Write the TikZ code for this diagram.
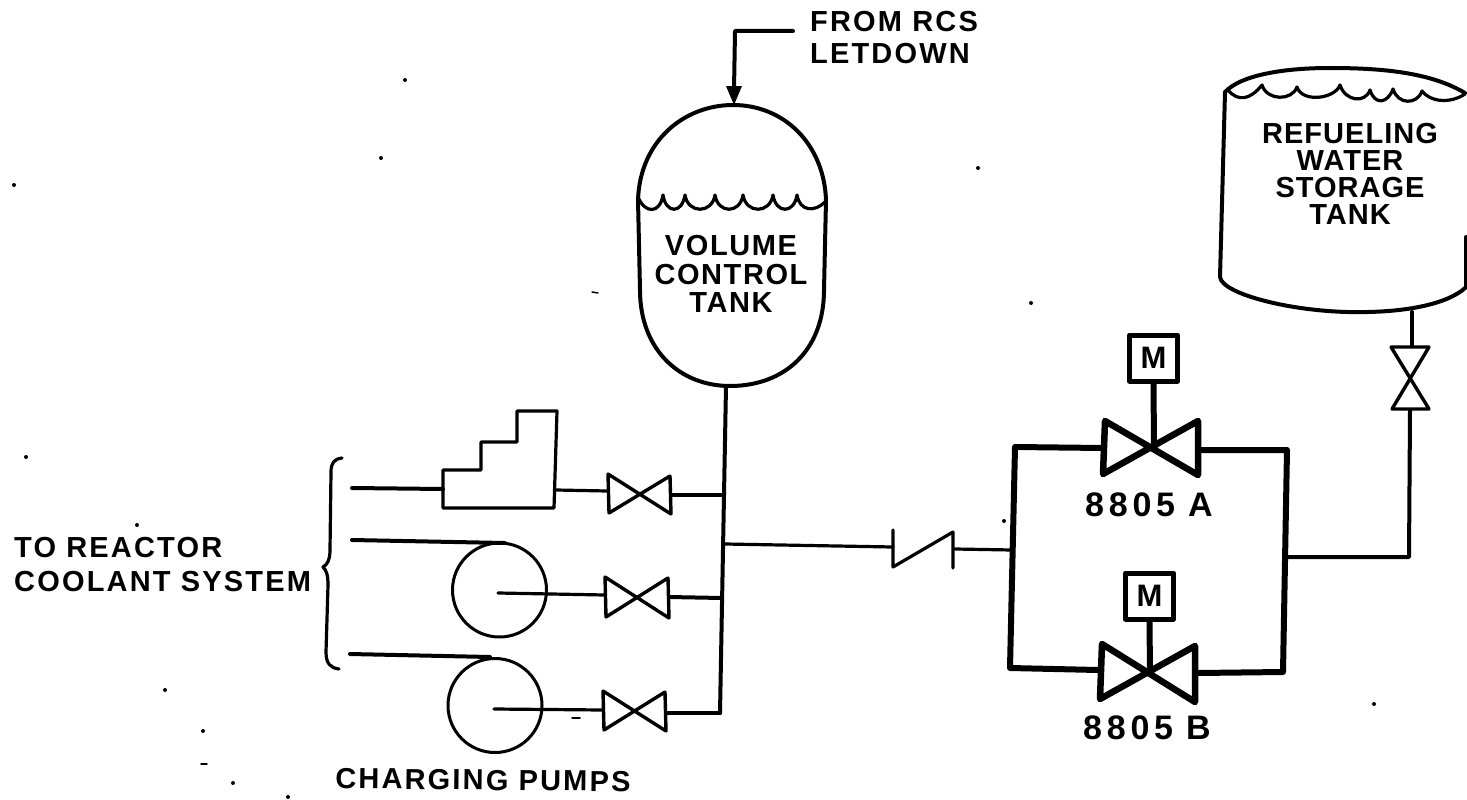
\documentclass[tikz,border=0pt]{standalone}
\usepackage{fontspec}
\setmainfont{Liberation Sans}
\newfontfamily\lsA[LetterSpace=3.5]{Liberation Sans}
\newfontfamily\lsB[LetterSpace=5.5]{Liberation Sans}
\newfontfamily\lsC[LetterSpace=7.5]{Liberation Sans}
\newfontfamily\lsD[LetterSpace=14]{Liberation Sans}
\begin{document}
\begin{tikzpicture}[x=1pt,y=-1pt,line cap=round,line join=round,
 pipe/.style={draw=black,line width=3.2pt},
 shell/.style={draw=black,line width=4pt},
 heavy/.style={draw=black,line width=6pt},
 lbl/.style={align=center,inner sep=0pt,text=black},
 vlv/.style={draw=black,line width=3.4pt,fill=white},
 mvlv/.style={draw=black,line width=6.5pt,fill=white},
 mbox/.style={draw=black,line width=5pt,minimum width=48pt,minimum height=46pt,inner sep=0pt,font=\fontsize{31pt}{31pt}\selectfont\bfseries,fill=white},
 speck/.style={fill=black}]
\useasboundingbox (0,0) rectangle (1467,800);
% labels
\node[lbl,align=left,anchor=west,font=\fontsize{29pt}{32pt}\lsC\bfseries] (rcs) at (810,38) {FROM RCS\\LETDOWN};
\node[lbl,font=\fontsize{29pt}{28.5pt}\lsB\bfseries] (vct) at (731,274) {VOLUME\\CONTROL\\TANK};
\node[lbl,font=\fontsize{29pt}{27pt}\lsA\bfseries] (rwst) at (1350,174) {REFUELING\\WATER\\STORAGE\\TANK};
\node[lbl,align=left,anchor=west,font=\fontsize{29pt}{34pt}\lsC\bfseries] (rc) at (14,565) {TO REACTOR\\COOLANT SYSTEM};
\node[lbl,rotate=-0.6,font=\fontsize{29pt}{32pt}\lsC\bfseries] (cp) at (483,780) {CHARGING PUMPS};
\node[lbl,anchor=west,font=\fontsize{34pt}{34pt}\lsD\bfseries] (a) at (1085,505) {8805\hspace{13pt}A};
\node[lbl,anchor=west,font=\fontsize{34pt}{34pt}\lsD\bfseries] (b) at (1083,728) {8805\hspace{13pt}B};
% VCT
\draw[shell] (638,200) .. controls (640,140) and (685,105) .. (733,105) .. controls (785,105) and (824,145) .. (826,200) -- (824,290) .. controls (824,350) and (785,386) .. (730,386) .. controls (680,386) and (640,350) .. (640,290) -- cycle;
\draw[pipe] (638,197) .. controls (645,214) and (660,214) .. (663,195)
  \foreach \ax/\bx in {663/685,685/715,715/743,743/773,773/797} { .. controls (\ax+3,214) and (\bx-3,214) .. (\bx,195) }
  .. controls (800,212) and (815,212) .. (825,202);
% inlet
\coordinate (rcsEnd) at (793,31);
\coordinate (vctTop) at (734,90);
\draw[shell] (rcsEnd) -- (735,31) -- (vctTop);
\fill (734,105) -- (726,86) -- (742,86) -- cycle;
% header
\coordinate (h0) at (726,386);
\coordinate (h1) at (720,713);
\draw[shell] (h0) -- (h1);
% stepped pump
\coordinate (p1in) at (352,488);
\coordinate (p1L) at (443,489);
\draw[shell] (p1in) -- (p1L);
\draw[pipe] (443,508) -- (443,470) -- (481,470) -- (481,442) -- (517,442) -- (517,411) -- (557,411) -- (554,508) -- cycle;
\draw[pipe] (556,490) -- (607,491);
\draw[shell] (671,495) -- (724,495);
\draw[vlv] (608,474) -- (609,513) -- (670,476) -- (671,514) -- cycle;
% pump 2
\node[draw=black,line width=3pt,circle,minimum size=94pt,inner sep=0pt] (pump2) at (499.5,590) {};
\draw[shell] (352,540) -- (505,543);
\draw[pipe] (498,593) -- (605,595);
\draw[shell] (669,597) -- (722,598);
\draw[vlv] (605,577) -- (606,617) -- (668,578) -- (669,618) -- cycle;
% pump 3
\node[draw=black,line width=3pt,circle,minimum size=94pt,inner sep=0pt] (pump3) at (495,705.5) {};
\draw[shell] (350,654) -- (490,657);
\draw[pipe] (494,709) -- (603,710);
\draw[shell] (666,713) -- (720,713);
\draw[vlv] (603,691) -- (604,730) -- (665,692) -- (666,731) -- cycle;
\draw[pipe,line width=1.5pt] (572,718) -- (580,718);
% brace
\draw[pipe] (342,458) .. controls (334,459) and (331,463) .. (331,472) -- (330,550) .. controls (330,560) and (327,565) .. (323,567) .. controls (326,570) and (328,574) .. (328,585) -- (326,652) .. controls (326,663) and (330,668) .. (339,669);
% check valve
\coordinate (cvin) at (893,547);
\coordinate (cvout) at (955,549);
\draw[pipe] (725,544) -- (cvin);
\draw[pipe] (893,530) -- (893,567) -- (953,532) -- (953,568);
\draw[pipe] (cvout) -- (1012,550);
% parallel lines
\draw[heavy] (1103,448) -- (1015,447) -- (1010,668) -- (1098,670);
\draw[heavy] (1200,450) -- (1287,450) -- (1283,672) -- (1198,673);
\draw[shell] (1287,557) -- (1409,557) -- (1410,410);
% valve A
\draw[mvlv] (1105,421) -- (1103,474) -- (1198,421) -- (1198,475) -- cycle;
\node[mbox] (mbox1) at (1153.5,358) {M};
\draw[heavy] (mbox1.south) -- (1154,447);
% valve B
\draw[mvlv] (1102,644) -- (1100,699) -- (1195,646) -- (1195,702) -- cycle;
\node[mbox] (mbox2) at (1149.5,596) {M};
\draw[heavy] (mbox2.south) -- (1150,673);
% RWST
\draw[shell] (1465,93) .. controls (1430,72) and (1380,68) .. (1330,68) .. controls (1280,68) and (1240,76) .. (1225,92) -- (1220,277) .. controls (1222,295) and (1300,314) .. (1367,312) .. controls (1420,311) and (1455,300) .. (1468,285);
\draw[shell] (1466,237) -- (1466,285);
\draw[pipe] (1228,90) .. controls (1238,102) and (1250,100) .. (1262,85)
  \foreach \ax/\ay/\bx/\by in {1262/85/1297/87,1297/87/1340/85,1340/85/1370/90,1370/90/1393/89,1393/89/1422/91} { .. controls (\ax+5,\ay+16) and (\bx-5,\by+14) .. (\bx,\by) }
  .. controls (1430,102) and (1450,104) .. (1465,94);
% RWST outlet
\coordinate (rwOut) at (1412,312);
\draw[shell] (rwOut) -- (1412,347);
\draw[vlv] (1391,347) -- (1429,347) -- (1392,409) -- (1429,409) -- cycle;
% specks
\foreach \p/\n in {405/80, 381/158, 978/168, 14/185, 1031/303, 26/457, 1004/521, 1374/704, 203/731, 233/783, 288/797, 137/525, 165/690}
  \fill[speck] (\p,\n) circle (2);
\draw[pipe,line width=1.5pt] (592,292) -- (598,293);
\draw[pipe,line width=1.5pt] (201,764) -- (207,764);
\end{tikzpicture}
\end{document}
